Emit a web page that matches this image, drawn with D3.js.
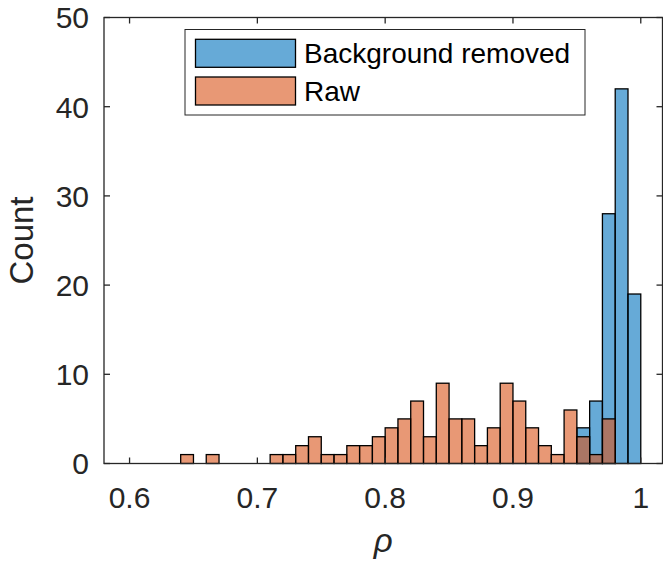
<!DOCTYPE html>
<html>
<head>
<meta charset="utf-8">
<script src="https://cdn.jsdelivr.net/npm/d3@7"></script>
<style>
  body { margin: 0; background: #fff; }
  text { font-family: "Liberation Sans", Arial, Helvetica, sans-serif; }
</style>
</head>
<body>
<div class="viz"></div>
<script>
var
width = 663,
height = 562,
binWidth = 0.01,
axisColor = "#262626";

// histogram bins (left edge) and counts
var rawBins = [0.64, 0.65, 0.66, 0.67, 0.68, 0.69, 0.70, 0.71, 0.72, 0.73, 0.74, 0.75,
  0.76, 0.77, 0.78, 0.79, 0.80, 0.81, 0.82, 0.83, 0.84, 0.85, 0.86, 0.87, 0.88, 0.89,
  0.90, 0.91, 0.92, 0.93, 0.94, 0.95, 0.96, 0.97, 0.98, 0.99];
var rawCounts = [1, 0, 1, 0, 0, 0, 0, 1, 1, 2, 3, 1,
  1, 2, 2, 3, 4, 5, 7, 3, 9, 5, 5, 2, 4, 9,
  7, 4, 2, 1, 6, 3, 1, 5, 0, 0];
var bgBins = [0.95, 0.96, 0.97, 0.98, 0.99];
var bgCounts = [4, 7, 28, 42, 19];

var xTicks = [0.6, 0.7, 0.8, 0.9, 1];
var xTickLabels = ["0.6", "0.7", "0.8", "0.9", "1"];
var yTicks = [0, 10, 20, 30, 40, 50];

var seriesNames = ["Background removed", "Raw"];
var seriesColors = ["rgb(0,114,189)", "rgb(217,83,25)"];
var faceAlpha = 0.6;

// note: "top" is taken by window.top, so plot edges get a prefix
var plotLeft = 104, plotRight = 662.5, plotTop = 17.5, plotBottom = 463.5;

var x = d3.scaleLinear().domain([0.58, 1.017]).range([plotLeft, plotRight]);
var y = d3.scaleLinear().domain([0, 50]).range([plotBottom, plotTop]);

var svg = d3.select(".viz").append("svg")
  .attr("width", width)
  .attr("height", height);

var drawBars = function(bins, counts, color) {
  var data = bins.map(function(b, i) { return {x0: b, n: counts[i]}; });
  svg.append("g").selectAll("rect")
    .data(data)
    .enter()
    .append("rect")
    .attr("x", function(d) { return x(d.x0); })
    .attr("y", function(d) { return y(d.n); })
    .attr("width", function(d) { return x(d.x0 + binWidth) - x(d.x0); })
    .attr("height", function(d) { return y(0) - y(d.n); })
    .attr("fill", color)
    .attr("fill-opacity", faceAlpha)
    .attr("stroke", "#000")
    .attr("stroke-width", 1.3);
};

// blue first, raw on top so the overlap turns brown
drawBars(bgBins, bgCounts, seriesColors[0]);
drawBars(rawBins, rawCounts, seriesColors[1]);

// axes: matlab box with inward ticks on all four sides
var tickLen = 6;
var ax = svg.append("g")
  .attr("stroke", axisColor)
  .attr("stroke-width", 1.3)
  .attr("fill", "none");

ax.append("rect")
  .attr("x", plotLeft).attr("y", plotTop)
  .attr("width", plotRight - plotLeft).attr("height", plotBottom - plotTop);

xTicks.forEach(function(t) {
  ax.append("line").attr("x1", x(t)).attr("x2", x(t)).attr("y1", plotBottom).attr("y2", plotBottom - tickLen);
  ax.append("line").attr("x1", x(t)).attr("x2", x(t)).attr("y1", plotTop).attr("y2", plotTop + tickLen);
});
yTicks.forEach(function(t) {
  ax.append("line").attr("x1", plotLeft).attr("x2", plotLeft + tickLen).attr("y1", y(t)).attr("y2", y(t));
  ax.append("line").attr("x1", plotRight).attr("x2", plotRight - tickLen).attr("y1", y(t)).attr("y2", y(t));
});

svg.append("g").selectAll("text")
  .data(xTicks)
  .enter()
  .append("text")
  .attr("x", function(d) { return x(d); })
  .attr("y", 508)
  .attr("text-anchor", "middle")
  .attr("font-size", 30)
  .attr("fill", axisColor)
  .text(function(d, i) { return xTickLabels[i]; });

svg.append("g").selectAll("text")
  .data(yTicks)
  .enter()
  .append("text")
  .attr("x", 89)
  .attr("y", function(d) { return y(d); })
  .attr("dy", "0.36em")
  .attr("text-anchor", "end")
  .attr("font-size", 30)
  .attr("fill", axisColor)
  .text(function(d) { return d; });

svg.append("text")
  .attr("transform", "translate(33," + ((plotTop + plotBottom) / 2) + ") rotate(-90)")
  .attr("text-anchor", "middle")
  .attr("font-size", 33)
  .attr("fill", axisColor)
  .text("Count");

svg.append("text")
  .attr("x", (plotLeft + plotRight) / 2)
  .attr("y", 552)
  .attr("text-anchor", "middle")
  .attr("font-size", 33)
  .attr("font-style", "italic")
  .attr("fill", axisColor)
  .text("ρ");

// legend
var legend = svg.append("g");
legend.append("rect")
  .attr("x", 185).attr("y", 29.5)
  .attr("width", 400).attr("height", 85.5)
  .attr("fill", "#fff")
  .attr("stroke", axisColor)
  .attr("stroke-width", 1);

seriesNames.forEach(function(name, i) {
  var cy = 53.3 + i * 37.7;
  legend.append("rect")
    .attr("x", 195.5).attr("y", cy - 14)
    .attr("width", 100).attr("height", 28)
    .attr("fill", seriesColors[i])
    .attr("fill-opacity", faceAlpha)
    .attr("stroke", "#000")
    .attr("stroke-width", 1.3);
  legend.append("text")
    .attr("x", 304)
    .attr("y", cy + 10)
    .attr("font-size", 28)
    .attr("fill", "#000")
    .text(name);
});
</script>
</body>
</html>
